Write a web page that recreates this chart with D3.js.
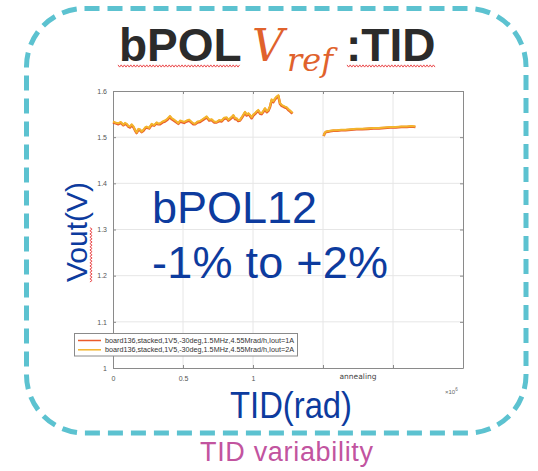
<!DOCTYPE html>
<html><head><meta charset="utf-8">
<script src="https://cdn.jsdelivr.net/npm/d3@7"></script>
<style>body{margin:0;background:#fff}svg{display:block}</style>
</head><body>
<script>
// ---------- data ----------
const xTicks = [0, 0.5, 1, 1.5, 2, 2.5];
const xTickLabels = ["0", "0.5", "1", "", "", ""];
const yTicks = [1, 1.1, 1.2, 1.3, 1.4, 1.5, 1.6];
const yTickLabels = ["1", "1.1", "1.2", "1.3", "1.4", "1.5", "1.6"];
const legendLabels = [
  "board136,stacked,1V5,-30deg,1.5MHz,4.55Mrad/h,Iout=1A",
  "board136,stacked,1V5,-30deg,1.5MHz,4.55Mrad/h,Iout=2A"
];
// irradiation run (TID x1e6 rad)
const tidRun = [0,.02,.038,.055,.074,.086,.098,.11,.121,.133,
  .145,.157,.169,.181,.193,.205,.217,.229,.240,.258,
  .276,.294,.312,.324,.336,.354,.371,.389,.407,.419,
  .431,.449,.467,.479,.490,.508,.526,.544,.562,.574,
  .586,.604,.621,.645,.669,.687,.705,.722,.740,.758,
  .776,.794,.812,.824,.836,.848,.860,.872,.883,.895,
  .907,.925,.943,.955,.967,.979,.990,1.002,1.014,1.026,
  1.038,1.050,1.062,1.074,1.086,1.098,1.110,1.122,1.133,1.145,
  1.157,1.169,1.181,1.193,1.205,1.217,1.229,1.240,1.252,1.264,
  1.275,1.283];
const voutRun1A = [1.532,1.530,1.528,1.531,1.526,1.529,1.527,1.523,1.521,1.526,
  1.522,1.515,1.509,1.516,1.515,1.511,1.514,1.519,1.521,1.519,
  1.527,1.525,1.530,1.528,1.528,1.532,1.534,1.538,1.544,1.539,
  1.537,1.533,1.529,1.534,1.533,1.531,1.534,1.536,1.531,1.528,
  1.528,1.532,1.533,1.538,1.543,1.536,1.537,1.532,1.532,1.535,
  1.534,1.540,1.541,1.536,1.539,1.542,1.546,1.539,1.539,1.535,
  1.536,1.544,1.553,1.547,1.550,1.546,1.541,1.547,1.550,1.554,
  1.557,1.551,1.550,1.555,1.561,1.554,1.557,1.566,1.579,1.576,
  1.582,1.586,1.589,1.572,1.568,1.566,1.564,1.563,1.559,1.556,
  1.553,1.551];
const voutRun2A = [1.534,1.531,1.530,1.533,1.527,1.531,1.529,1.524,1.523,1.528,
  1.524,1.516,1.510,1.518,1.517,1.512,1.516,1.521,1.523,1.520,
  1.529,1.526,1.532,1.529,1.530,1.534,1.536,1.540,1.546,1.541,
  1.539,1.535,1.530,1.536,1.535,1.533,1.536,1.538,1.533,1.530,
  1.529,1.534,1.535,1.540,1.545,1.538,1.539,1.534,1.533,1.537,
  1.536,1.542,1.543,1.538,1.541,1.544,1.548,1.541,1.541,1.537,
  1.537,1.546,1.555,1.549,1.552,1.548,1.543,1.549,1.552,1.556,
  1.559,1.553,1.552,1.557,1.563,1.556,1.559,1.568,1.582,1.578,
  1.584,1.588,1.591,1.574,1.570,1.568,1.566,1.565,1.561,1.558,
  1.555,1.553];
// annealing
const tidAnneal = [1.505,1.510,1.520,1.535,1.55,1.575,1.60,1.63,1.66,1.70,1.74,1.78,1.82,1.86,1.90,1.94,1.98,2.02,2.06,2.10,2.13,2.16];
const voutAnneal1A = [1.502,1.507,1.511,1.512,1.513,1.514,1.514,1.515,1.515,1.516,1.517,1.517,1.518,1.519,1.519,1.520,1.521,1.521,1.522,1.522,1.523,1.522];
const voutAnneal2A = [1.503,1.508,1.512,1.513,1.514,1.515,1.515,1.516,1.516,1.517,1.518,1.518,1.519,1.520,1.520,1.521,1.522,1.522,1.523,1.523,1.524,1.523];

// ---------- drawing ----------
const W = 538, H = 471;
const svg = d3.select("body").append("svg").attr("width", W).attr("height", H);
const SANS = "'Liberation Sans', Arial, sans-serif";
const BLUE = "#0d3b9e";
const C1 = "#ea5b2b", C2 = "#f3b52c";

// dashed rounded frame
svg.append("rect").attr("x", 26.5).attr("y", 8.5).attr("width", 499.5).attr("height", 424.5)
  .attr("rx", 58).attr("ry", 58).attr("fill", "none")
  .attr("stroke", "#5cc2d0").attr("stroke-width", 5).attr("stroke-dasharray", "15 8");

function wavy(x0, y0, len, vertical) {
  const p = d3.path(); const step = 1.6, amp = 1.1;
  for (let i = 0, t = 0; t <= len; i++, t += step) {
    const o = (i % 2 ? amp : -amp);
    const X = vertical ? x0 + o : x0 + t, Y = vertical ? y0 - t : y0 + o;
    if (i === 0) p.moveTo(X, Y); else p.lineTo(X, Y);
  }
  svg.append("path").attr("d", p.toString()).attr("fill", "none").attr("stroke", "#e8393b").attr("stroke-width", 0.9);
}

// title
svg.append("text").attr("x", 119).attr("y", 61).attr("font-family", SANS).attr("font-weight", "bold")
  .attr("font-size", 46).attr("fill", "#2b2b2b").text("bPOL");
svg.append("text").attr("x", 252).attr("y", 61).attr("font-family", "'DejaVu Serif', serif").attr("font-style", "italic")
  .attr("font-size", 44).attr("fill", "#e0622c").text("V");
svg.append("text").attr("x", 287).attr("y", 71).attr("font-family", "'DejaVu Serif', serif").attr("font-style", "italic")
  .attr("font-size", 32).attr("fill", "#e0622c").attr("textLength", 46).attr("lengthAdjust", "spacingAndGlyphs").text("ref");
svg.append("text").attr("x", 346).attr("y", 61).attr("font-family", SANS).attr("font-weight", "bold")
  .attr("font-size", 46).attr("fill", "#2b2b2b").text(":TID");
wavy(118, 66, 122, false);
wavy(347, 66, 88, false);

// plot
const x = d3.scaleLinear().domain([0, 2.5]).range([113, 463]);
const y = d3.scaleLinear().domain([1, 1.6]).range([368, 91]);

const grid = svg.append("g");
xTicks.slice(1, -1).forEach(t => grid.append("line").attr("x1", x(t)).attr("x2", x(t)).attr("y1", y(1)).attr("y2", y(1.6))
  .attr("stroke", "#e6e6e6").attr("stroke-width", 1));
yTicks.slice(1, -1).forEach(t => grid.append("line").attr("y1", y(t)).attr("y2", y(t)).attr("x1", x(0)).attr("x2", x(2.5))
  .attr("stroke", "#e6e6e6").attr("stroke-width", 1));

function styleAxis(g) {
  g.selectAll(".domain").attr("stroke", "#8a8a8a");
  g.selectAll(".tick line").attr("stroke", "#8a8a8a");
  g.selectAll("text").attr("fill", "#555").attr("font-family", SANS).attr("font-size", 7);
}
const xAxB = svg.append("g").attr("transform", `translate(0,${y(1)})`)
  .call(d3.axisBottom(x).tickValues(xTicks).tickSize(-3).tickPadding(8).tickSizeOuter(0)
    .tickFormat((d, i) => xTickLabels[i]));
styleAxis(xAxB);
const xAxT = svg.append("g").attr("transform", `translate(0,${y(1.6)})`)
  .call(d3.axisTop(x).tickValues(xTicks).tickSize(-3).tickSizeOuter(0).tickFormat(""));
styleAxis(xAxT);
const yAxL = svg.append("g").attr("transform", `translate(${x(0)},0)`)
  .call(d3.axisLeft(y).tickValues(yTicks).tickSize(-3).tickPadding(6).tickSizeOuter(0)
    .tickFormat((d, i) => yTickLabels[i]));
styleAxis(yAxL);
const yAxR = svg.append("g").attr("transform", `translate(${x(2.5)},0)`)
  .call(d3.axisRight(y).tickValues(yTicks).tickSize(-3).tickSizeOuter(0).tickFormat(""));
styleAxis(yAxR);

svg.append("text").attr("x", x(1.75)).attr("y", 379).attr("text-anchor", "middle").attr("font-family", "'DejaVu Sans', sans-serif")
  .attr("font-size", 7.5).attr("fill", "#444").text("annealing");
const ex = svg.append("text").attr("x", 445).attr("y", 394).attr("font-family", SANS).attr("font-size", 6).attr("fill", "#666");
ex.append("tspan").text("×10");
ex.append("tspan").attr("dy", -3).attr("font-size", 4.5).text("6");

// series
const line = d3.line().x(d => x(d[0])).y(d => y(d[1]));
const pairs = (xs, ys) => xs.map((v, i) => [v, ys[i]]);
[[tidRun, voutRun1A, C1, 2.6], [tidAnneal, voutAnneal1A, C1, 2.6], [tidRun, voutRun2A, C2, 2], [tidAnneal, voutAnneal2A, C2, 2]]
  .forEach(([xs, ys, c, w]) => svg.append("path").attr("d", line(pairs(xs, ys))).attr("fill", "none")
    .attr("stroke", c).attr("stroke-width", w).attr("stroke-linejoin", "round"));

// legend
const lg = svg.append("g");
lg.append("rect").attr("x", 74.5).attr("y", 333.5).attr("width", 223).attr("height", 22.5)
  .attr("fill", "#fff").attr("stroke", "#8a8a8a").attr("stroke-width", 1);
[C1, C2].forEach((c, i) => {
  const yy = 340.5 + i * 9.3;
  lg.append("line").attr("x1", 78).attr("x2", 101).attr("y1", yy).attr("y2", yy).attr("stroke", c).attr("stroke-width", 1.5);
  lg.append("text").attr("x", 105).attr("y", yy + 2.3).attr("font-family", SANS).attr("font-size", 6.6)
    .attr("fill", "#333").attr("textLength", 189).attr("lengthAdjust", "spacingAndGlyphs").text(legendLabels[i]);
});

// overlay texts
svg.append("text").attr("x", 152).attr("y", 223).attr("font-family", SANS).attr("font-size", 45)
  .attr("fill", BLUE).text("bPOL12");
svg.append("text").attr("x", 152).attr("y", 278).attr("font-family", SANS).attr("font-size", 45)
  .attr("fill", BLUE).attr("textLength", 236).text("-1% to +2%");

svg.append("text").attr("transform", "translate(87,232) rotate(-90)").attr("text-anchor", "middle")
  .attr("font-family", SANS).attr("font-size", 30).attr("fill", BLUE).text("Vout(V)");
wavy(91, 282, 55, true);

svg.append("text").attr("x", 230).attr("y", 418).attr("font-family", SANS).attr("font-size", 36)
  .attr("fill", BLUE).attr("textLength", 122).attr("lengthAdjust", "spacingAndGlyphs").text("TID(rad)");

svg.append("text").attr("x", 200).attr("y", 461).attr("font-family", SANS).attr("font-size", 27)
  .attr("fill", "#c2549f").attr("textLength", 173).text("TID variability");
</script>
</body></html>
